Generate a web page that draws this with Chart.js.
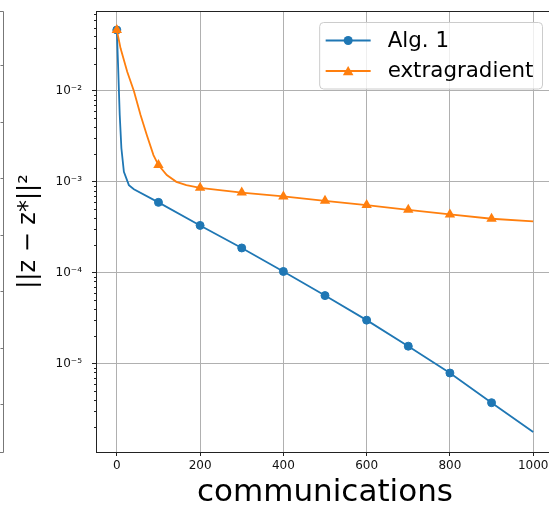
<!DOCTYPE html>
<html>
<head>
<meta charset="utf-8">
<script src="https://cdn.jsdelivr.net/npm/chart.js@4.4.1/dist/chart.umd.min.js"></script>
<style>
  html, body { margin: 0; padding: 0; overflow: hidden; background: #fff; }
  #wrap { width: 560px; height: 508px; }
</style>
</head>
<body>
<div id="wrap"><canvas id="myChart" width="560" height="508"></canvas></div>
<script>
// values
const algX = [0, 3, 7, 11, 17, 29, 41, 100, 200, 300, 400, 500, 600, 700, 800, 900, 1000];
const algY = [0.047, 0.0193, 0.00545, 0.00234, 0.00129, 0.00092, 0.00083, 5.94e-4, 3.31e-4, 1.87e-4,
  1.03e-4, 5.59e-5, 3.0e-5, 1.55e-5, 7.85e-6, 3.7e-6, 1.76e-6];

const egX = [0, 9, 25, 41, 57, 72, 88, 100, 120, 143, 167, 200, 300, 400, 500, 600, 700, 800, 900, 1000];
const egY = [0.047, 0.0295, 0.0163, 0.01, 0.00545, 0.00327, 0.00197, 0.00153, 0.00119, 0.001, 9.2e-4,
  8.6e-4, 7.62e-4, 6.9e-4, 6.18e-4, 5.54e-4, 4.92e-4, 4.37e-4, 3.92e-4, 3.66e-4];

const seriesLabels = ["Alg. 1", "extragradient"];
const xTicks = [0, 200, 400, 600, 800, 1000];
const yTickValues = [1e-5, 1e-4, 1e-3, 1e-2];
const yTickLabels = ["10\u207b\u2075", "10\u207b\u2074", "10\u207b\u00b3", "10\u207b\u00b2"];

const xMin = -50, xMax = 1050;
const yMin = 1.06e-6, yMax = 0.076;

const colorMap = { alg: "#1f77b4", extra: "#ff7f0e" };
const FONT = "DejaVu Sans";
const TEXT = "#111";

function toPoints(xs, ys) {
  return xs.map((x, i) => ({ x: x, y: ys[i] }));
}

// markers every 100 communications, like markevery
function markerRadius(r) {
  return (c) => {
    const x = c.raw ? c.raw.x : -1;
    return x % 100 === 0 && x <= 900 ? r : 0;
  };
}

function isMajor(v) {
  return yTickValues.indexOf(v) >= 0;
}

// frame, minor log ticks and the clipped edge of the neighbouring axes
const framePlugin = {
  id: "frame",
  afterDatasetsDraw(chart) {
    const { ctx, chartArea: a } = chart;
    const ys = chart.scales.y;
    ctx.save();
    ctx.strokeStyle = "#222";
    ctx.lineWidth = 1;
    ys.ticks.forEach((t) => {
      if (isMajor(t.value)) return;
      const py = Math.round(ys.getPixelForValue(t.value)) + 0.5;
      ctx.beginPath();
      ctx.moveTo(a.left - 2, py);
      ctx.lineTo(a.left, py);
      ctx.stroke();
    });
    const l = Math.floor(a.left) + 0.5, t = Math.floor(a.top) + 0.5;
    const r = Math.floor(a.right) + 0.5, b = Math.floor(a.bottom) + 0.5;
    ctx.strokeRect(l, t, r - l, b - t);

    ctx.strokeStyle = "#777";
    ctx.beginPath();
    ctx.moveTo(0, t);
    ctx.lineTo(3.5, t);
    ctx.lineTo(3.5, b);
    ctx.lineTo(0, b);
    for (let i = 0; i < 7; i++) {
      const py = Math.round(a.top + 54 + i * 56.5) + 0.5;
      ctx.moveTo(0.5, py);
      ctx.lineTo(3.5, py);
    }
    ctx.stroke();
    ctx.restore();
  },
};

// matplotlib-style legend box in the upper right
const legendPlugin = {
  id: "mplLegend",
  afterDraw(chart) {
    const { ctx, chartArea: a } = chart;
    ctx.save();
    ctx.font = "21.4px '" + FONT + "'";
    const textW = Math.max(...seriesLabels.map((s) => ctx.measureText(s).width));
    const padL = 6, handleW = 45, gap = 17, padR = 9;
    const boxW = padL + handleW + gap + textW + padR;
    const boxH = 66.5;
    const right = a.right - 11.5;
    const left = right - boxW;
    const top = a.top + 11.5;

    ctx.beginPath();
    ctx.roundRect(left, top, boxW, boxH, 4);
    ctx.fillStyle = "rgba(255,255,255,0.8)";
    ctx.fill();
    ctx.strokeStyle = "#cccccc";
    ctx.lineWidth = 1;
    ctx.stroke();

    const rows = [
      { label: seriesLabels[0], color: colorMap.alg, style: "circle", y: top + 18 },
      { label: seriesLabels[1], color: colorMap.extra, style: "triangle", y: top + 48.5 },
    ];
    rows.forEach((row) => {
      const hx = left + padL;
      ctx.strokeStyle = row.color;
      ctx.lineWidth = 1.8;
      ctx.beginPath();
      ctx.moveTo(hx, row.y);
      ctx.lineTo(hx + handleW, row.y);
      ctx.stroke();
      ctx.fillStyle = row.color;
      const cx = hx + handleW / 2;
      ctx.beginPath();
      if (row.style === "circle") {
        ctx.arc(cx, row.y, 4.5, 0, Math.PI * 2);
      } else {
        ctx.moveTo(cx, row.y - 5);
        ctx.lineTo(cx - 5.3, row.y + 4.3);
        ctx.lineTo(cx + 5.3, row.y + 4.3);
        ctx.closePath();
      }
      ctx.fill();
      ctx.fillStyle = "#000";
      ctx.textBaseline = "middle";
      ctx.fillText(row.label, hx + handleW + gap, row.y + 0.5);
    });
    ctx.restore();
  },
};

const ctx = document.getElementById("myChart").getContext("2d");
const myChart = new Chart(ctx, {
  type: "line",
  data: {
    datasets: [
      {
        label: seriesLabels[0],
        data: toPoints(algX, algY),
        borderColor: colorMap.alg,
        backgroundColor: colorMap.alg,
        borderWidth: 1.8,
        pointStyle: "circle",
        pointRadius: markerRadius(4),
        pointBorderWidth: 1,
        pointBorderColor: colorMap.alg,
        tension: 0,
        order: 2,
      },
      {
        label: seriesLabels[1],
        data: toPoints(egX, egY),
        borderColor: colorMap.extra,
        backgroundColor: colorMap.extra,
        borderWidth: 1.8,
        pointStyle: "triangle",
        pointRadius: markerRadius(6),
        pointBorderWidth: 0,
        tension: 0,
        order: 1,
      },
    ],
  },
  options: {
    responsive: false,
    animation: false,
    devicePixelRatio: 1,
    layout: { padding: { left: 0, right: 3, top: 11, bottom: 0 } },
    plugins: {
      legend: { display: false },
      tooltip: { enabled: false },
    },
    scales: {
      x: {
        type: "linear",
        min: xMin,
        max: xMax,
        afterBuildTicks: (scale) => {
          scale.ticks = xTicks.map((v) => ({ value: v }));
        },
        afterFit: (scale) => {
          scale.height = 56;
          scale.paddingLeft = 0;
          scale.paddingRight = 0;
        },
        border: { display: false },
        grid: {
          color: "#b0b0b0",
          lineWidth: 1,
          drawTicks: true,
          tickLength: 4,
          tickColor: "#222",
        },
        ticks: {
          color: TEXT,
          font: { family: FONT, size: 12 },
          padding: 3,
          maxRotation: 0,
          autoSkip: false,
          callback: (v) => String(v),
        },
        title: {
          display: true,
          text: "communications",
          color: "#000",
          font: { family: FONT, size: 31, lineHeight: 1 },
          padding: { top: 0, bottom: 0 },
        },
      },
      y: {
        type: "logarithmic",
        min: yMin,
        max: yMax,
        afterBuildTicks: (scale) => {
          const ticks = [];
          for (let e = -6; e <= -2; e++) {
            for (let m = 1; m <= 9; m++) {
              const v = Number(m + "e" + e);
              if (v >= yMin && v <= yMax) ticks.push({ value: v });
            }
          }
          scale.ticks = ticks;
        },
        afterFit: (scale) => {
          scale.width = 96;
          scale.paddingTop = 0;
          scale.paddingBottom = 0;
        },
        border: { display: false },
        grid: {
          color: (c) => (c.tick && isMajor(c.tick.value) ? "#b0b0b0" : "rgba(0,0,0,0)"),
          lineWidth: 1,
          drawTicks: true,
          tickLength: 4,
          tickColor: (c) => (c.tick && isMajor(c.tick.value) ? "#222" : "rgba(0,0,0,0)"),
        },
        ticks: {
          color: TEXT,
          font: { family: FONT, size: 12 },
          padding: 10,
          autoSkip: false,
          callback: (v) => {
            const i = yTickValues.indexOf(v);
            return i >= 0 ? yTickLabels[i] : "";
          },
        },
        title: {
          display: true,
          text: "||z \u2212 z*||\u00b2",
          color: "#000",
          font: { family: FONT, size: 24, lineHeight: 1.2 },
          padding: { top: 14, bottom: 0 },
        },
      },
    },
  },
  plugins: [framePlugin, legendPlugin],
});
</script>
</body>
</html>
